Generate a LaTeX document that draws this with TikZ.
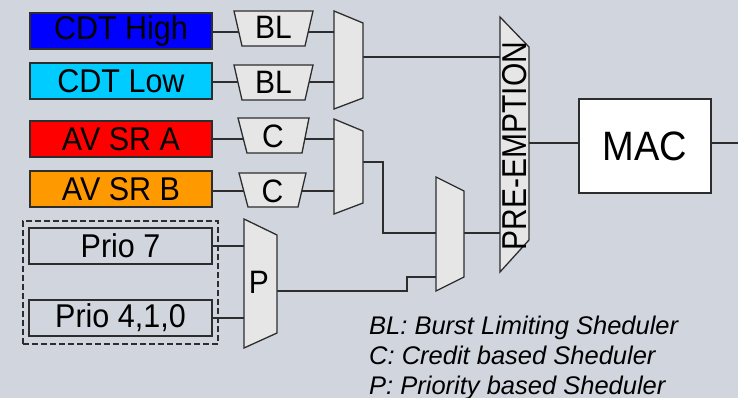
\documentclass[tikz,border=0pt]{standalone}
\usepackage{fontspec}
\setmainfont{Liberation Sans}
\definecolor{bgc}{RGB}{208,213,222}
\definecolor{linec}{RGB}{45,45,45}
\definecolor{shapefill}{RGB}{230,230,230}
\definecolor{cdtblue}{RGB}{0,0,255}
\definecolor{cdtcyan}{RGB}{0,204,255}
\definecolor{avred}{RGB}{255,0,0}
\definecolor{avorange}{RGB}{255,153,0}
\newcommand\tallt[1]{\scalebox{1}[1.08]{#1}}
\tikzset{
  box/.style={draw=linec, line width=1.3pt, minimum width=182pt, minimum height=36pt, inner sep=0pt, font=\fontsize{30.5}{30.5}\selectfont},
  sched/.style={draw=linec, fill=shapefill, line width=1.3pt, line join=miter},
  lbl/.style={inner sep=0pt, font=\fontsize{30}{30}\selectfont},
  wire/.style={draw=linec, line width=1.3pt},
  legend/.style={anchor=base west, inner sep=0pt, font=\fontsize{25.5}{25.5}\selectfont\itshape},
}
\begin{document}
\begin{tikzpicture}[x=1pt,y=-1pt]
\fill[bgc] (0,0) rectangle (738,398);
\useasboundingbox (0,0) rectangle (738,398);
\clip (0,0) rectangle (738,398);

% source boxes
\node[box, fill=cdtblue]   (cdth) at (121,31)  {\tallt{CDT High}};
\node[box, fill=cdtcyan]   (cdtl) at (121,81)  {\tallt{CDT Low}};
\node[box, fill=avred]     (avsa) at (121,139) {\tallt{AV SR A}};
\node[box, fill=avorange]  (avsb) at (121,189) {\tallt{AV SR B}};
\node[box, minimum width=183pt] (prio7) at (120.5,246) {\tallt{Prio 7}};
\node[box, minimum width=183pt] (prio4) at (120.5,318) {\tallt{Prio 4,1,0}};
\node[draw=linec, line width=1.3pt, dash pattern=on 6pt off 3pt, minimum width=195pt, minimum height=123pt, inner sep=0pt] (grp) at (120.5,282.5) {};

% port coordinates
\coordinate (m1a) at (334,32);
\coordinate (m1b) at (334,82);
\coordinate (m1o) at (363,57);
\coordinate (m2a) at (334,139);
\coordinate (m2b) at (334,191);
\coordinate (m2o) at (363,162);
\coordinate (m3a) at (436,233);
\coordinate (m3b) at (436,277);
\coordinate (m3o) at (464,233);
\coordinate (pa)  at (244,246);
\coordinate (pb)  at (244,318);
\coordinate (po)  at (277,291);
\coordinate (pe1) at (500,57);
\coordinate (pe2) at (500,233);
\coordinate (peo) at (529,143);
\coordinate (outr) at (738,143);

% connectors (drawn below the scheduler shapes)
\draw[wire] (cdth.east |- m1a) -- (m1a);
\draw[wire] (cdtl.east |- m1b) -- (m1b);
\draw[wire] (avsa.east |- m2a) -- (m2a);
\draw[wire] (avsb.east |- m2b) -- (m2b);
\draw[wire] (prio7.east) -- (pa);
\draw[wire] (prio4.east) -- (pb);
\draw[wire] (m1o) -- (pe1);
\draw[wire] (m2o) -| (383,233) -- (m3a);
\draw[wire] (po) -| (407,277) -- (m3b);
\draw[wire] (m3o) -- (pe2);

% scheduler trapezoids
\draw[sched] (234,11) -- (313,11) -- (305,46) -- (242,46) -- cycle;
\draw[sched] (234,65) -- (313,65) -- (305,100) -- (242,100) -- cycle;
\draw[sched] (238,118) -- (309,118) -- (302,153) -- (247,153) -- cycle;
\draw[sched] (239,173) -- (306,173) -- (298,207) -- (248,207) -- cycle;
\node[lbl] (bl1) at (273.5,27.5) {\tallt{BL}};
\node[lbl] (bl2) at (273.5,82.5) {\tallt{BL}};
\node[lbl] (c1)  at (273,136) {\tallt{C}};
\node[lbl] (c2)  at (272.5,191) {\tallt{C}};

% multiplexers
\draw[sched] (334,11) -- (363,23) -- (363,98) -- (334,109) -- cycle;
\draw[sched] (334,119) -- (363,131) -- (363,203) -- (334,214) -- cycle;
\draw[sched] (436,177) -- (464,191) -- (464,277) -- (436,291) -- cycle;
\draw[sched] (244,219) -- (277,235) -- (277,333) -- (244,348) -- cycle;
\node[lbl] (psched) at (259,282) {\tallt{P}};

% pre-emption
\draw[sched] (500,17) -- (529,47) -- (529,240) -- (500,272) -- cycle;
\node[lbl, rotate=90] (pre) at (514.5,146) {\scalebox{1}[1.15]{PRE-EMPTION}};

% MAC
\node[draw=linec, fill=white, line width=1.3pt, minimum width=132pt, minimum height=94pt, inner sep=0pt, font=\fontsize{38}{38}\selectfont] (mac) at (645,146) {\tallt{MAC}};
\draw[wire] (peo) -- (mac.west |- peo);
\draw[wire] (mac.east |- outr) -- (outr);

% legend
\node[legend] (lg1) at (369,334) {BL: Burst Limiting Sheduler};
\node[legend] (lg2) at (369,364) {C: Credit based Sheduler};
\node[legend] (lg3) at (369,394) {P: Priority based Sheduler};
\end{tikzpicture}
\end{document}
